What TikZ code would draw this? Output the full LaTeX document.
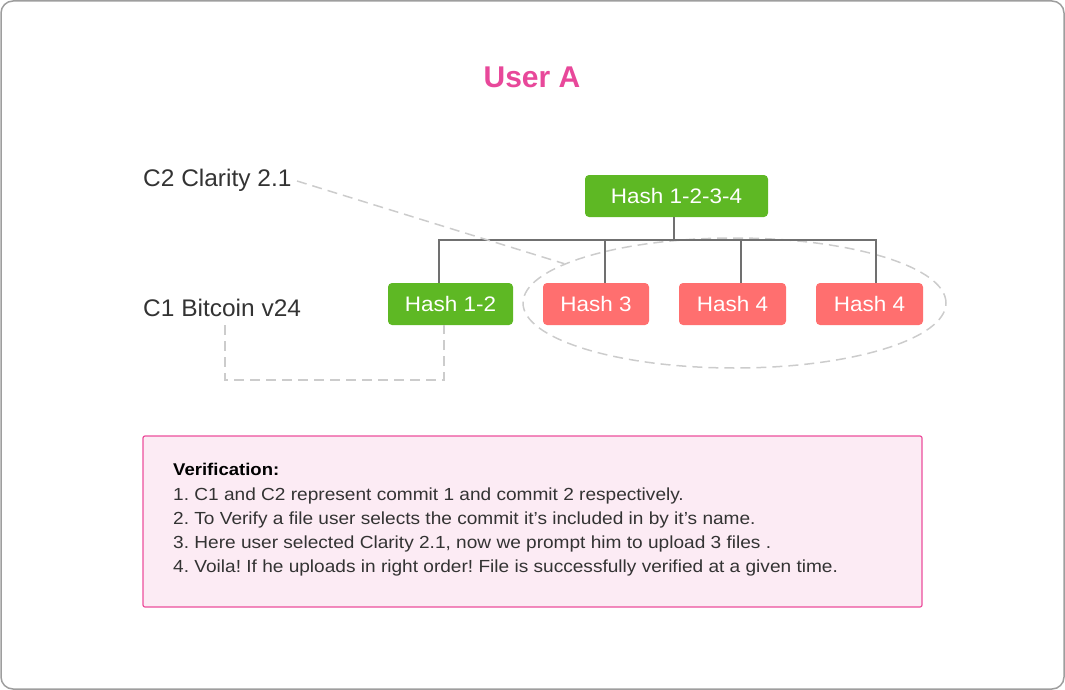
\documentclass[tikz,border=0pt]{standalone}
\usepackage{fontspec}
\setmainfont{Liberation Sans}
\newfontfamily\boxfont[FakeStretch=1.09]{Liberation Sans}
\newfontfamily\hashfont[FakeStretch=1.07]{Liberation Sans}
\newfontfamily\labelfont[FakeStretch=1.02]{Liberation Sans}
\usetikzlibrary{shapes.geometric}
\definecolor{framegray}{HTML}{9E9E9E}
\definecolor{titlepink}{HTML}{E8489A}
\definecolor{hashgreen}{HTML}{5EB824}
\definecolor{hashred}{HTML}{FF6F6F}
\definecolor{treegray}{HTML}{707070}
\definecolor{dashgray}{HTML}{CCCCCC}
\definecolor{labelgray}{HTML}{333333}
\definecolor{boxpink}{HTML}{EC4F9C}
\definecolor{boxfill}{HTML}{FCEBF4}
\tikzset{
  hashbox/.style={rounded corners=4pt, minimum height=42pt, inner sep=0pt, text=white,
    font=\hashfont\fontsize{21}{25}\selectfont},
  greenbox/.style={hashbox, fill=hashgreen},
  redbox/.style={hashbox, fill=hashred},
  treeline/.style={draw=treegray, line width=1.5pt},
  dashline/.style={draw=dashgray, line width=1.5pt, dash pattern=on 10pt off 6pt},
  sidelabel/.style={anchor=base west, inner sep=0pt, text=labelgray, font=\labelfont\fontsize{24}{28}\selectfont},
  boxline/.style={anchor=base west, inner sep=0pt, text=labelgray, font=\boxfont\frenchspacing\fontsize{17.5}{21}\selectfont},
}
\begin{document}
\begin{tikzpicture}[x=1pt, y=-1pt]
\useasboundingbox (0,0) rectangle (1065,690);
\draw[framegray, line width=1.5pt, rounded corners=12pt] (1,1) rectangle (1064,689);

\node[text=titlepink, font=\bfseries\fontsize{30}{34}\selectfont, anchor=base, inner sep=0pt] (title) at (532,88) {User A};

\node[sidelabel] (c2) at (143,186) {C2 Clarity 2.1};
\node[sidelabel] (c1) at (143,316) {C1 Bitcoin v24};

\node[ellipse, dashline, minimum width=423pt, minimum height=130pt, inner sep=0pt] (oval) at (734.5,303) {};

\node[greenbox, minimum width=183pt] (root) at (676.5,196) {Hash 1-2-3-4};
\node[greenbox, minimum width=125pt] (h12) at (450.5,304) {Hash 1-2};
\node[redbox, minimum width=106pt] (h3) at (596,304) {Hash 3};
\node[redbox, minimum width=107pt] (h4a) at (732.5,304) {Hash 4};
\node[redbox, minimum width=107pt] (h4b) at (869.5,304) {Hash 4};

\coordinate (rootb) at (674,217);
\coordinate (busl) at (439,240);
\coordinate (busr) at (876,240);
\coordinate (v3) at (605,240);
\coordinate (v4) at (741,240);
\draw[treeline] (rootb) -- (rootb |- busl);
\draw[treeline] (busl |- h12.north) -- (busl) -- (busr) -- (busr |- h4b.north);
\draw[treeline] (v3) -- (v3 |- h3.north);
\draw[treeline] (v4) -- (v4 |- h4a.north);

\coordinate (c2end) at (297,181);
\draw[dashline] (c2end) -- (oval.167.5);

\coordinate (c1s) at (225,325);
\coordinate (h12b) at (444,325);
\draw[dashline] (c1s) -- ++(0,55) -| (h12b);

\node[draw=boxpink, fill=boxfill, line width=1.2pt, rounded corners=2pt, minimum width=779pt, minimum height=171pt] (vbox) at (532.5,521.5) {};
\node[boxline, text=black, font=\boxfont\bfseries\fontsize{17}{20}\selectfont] (vt) at (173,475) {Verification:};
\node[boxline] (l1) at (173,500) {1. C1 and C2 represent commit 1 and commit 2 respectively.};
\node[boxline] (l2) at (173,524) {2. To Verify a file user selects the commit it’s included in by it’s name.};
\node[boxline] (l3) at (173,548) {3. Here user selected Clarity 2.1, now we prompt him to upload 3 files .};
\node[boxline] (l4) at (173,572) {4. Voila! If he uploads in right order! File is successfully verified at a given time.};
\end{tikzpicture}
\end{document}
